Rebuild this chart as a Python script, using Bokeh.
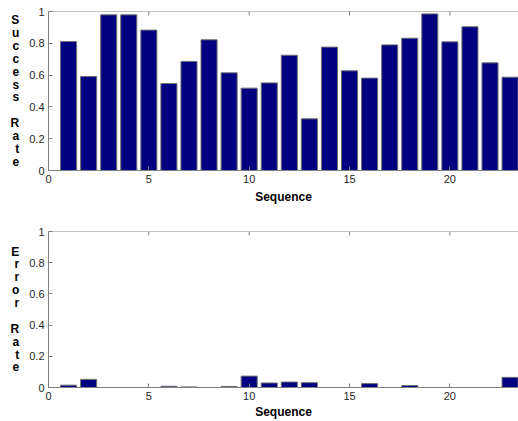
from bokeh.plotting import figure
from bokeh.layouts import column
from bokeh.models import FixedTicker, Range1d, Span
from bokeh.embed import file_html
from bokeh.resources import INLINE

sequence = list(range(1, 24))
success_rate = [0.811, 0.591, 0.979, 0.979, 0.883, 0.547, 0.686, 0.822, 0.614, 0.518,
                0.551, 0.725, 0.325, 0.776, 0.627, 0.581, 0.790, 0.832, 0.985, 0.809,
                0.904, 0.677, 0.587]
error_rate = [0.015, 0.052, 0.0, 0.0, 0.0, 0.008, 0.004, 0.0, 0.007, 0.073,
              0.029, 0.035, 0.031, 0.0, 0.0, 0.025, 0.0, 0.013, 0.0, 0.0,
              0.0, 0.0, 0.065]
x_ticks = [0, 5, 10, 15, 20]
y_ticks = [0, 0.2, 0.4, 0.6, 0.8, 1]
y_tick_labels = ["0", "0.2", "0.4", "0.6", "0.8", "1"]
x_label = "Sequence"
y_labels = ["Success Rate", "Error Rate"]

FONT = "Liberation Sans"
BAR = "#000080"
EDGE = "#707070"
AX = "#808080"
TXT = "#262626"


def make(values, ylabel, height, top, bottom, label_standoff):
    p = figure(width=518, height=height, output_backend="svg", toolbar_location=None,
               x_range=Range1d(0, 23.42), y_range=Range1d(0, 1),
               min_border_left=48, min_border_right=0,
               min_border_top=top, min_border_bottom=bottom)
    p.outline_line_color = None
    p.background_fill_color = "white"
    p.border_fill_color = "white"
    p.grid.visible = False
    p.vbar(x=sequence, top=values, width=0.8, fill_color=BAR, line_color=EDGE, line_width=1)

    xa = p.xaxis[0]
    xa.ticker = FixedTicker(ticks=x_ticks)
    xa.axis_label = x_label
    ya = p.yaxis[0]
    ya.ticker = FixedTicker(ticks=y_ticks)
    ya.major_label_overrides = {t: s for t, s in zip(y_ticks, y_tick_labels)}
    for a in (xa, ya):
        a.major_tick_in = 4
        a.major_tick_out = 0
        a.minor_tick_line_color = None
        a.axis_line_color = AX
        a.major_tick_line_color = AX
        a.major_label_text_font = FONT
        a.major_label_text_font_size = "11px"
        a.major_label_text_color = TXT
        a.axis_label_text_font = FONT
        a.axis_label_text_font_style = "bold"
        a.axis_label_text_font_size = "12px"
        a.axis_label_text_color = "black"
    xa.major_label_standoff = 4
    ya.major_label_standoff = 4
    xa.axis_label_standoff = label_standoff

    ya.axis_label = "\n".join(c if c != " " else " " for c in ylabel)
    ya.axis_label_orientation = "horizontal"
    ya.axis_label_standoff = 7
    ya.axis_label_text_line_height = 0.92

    # top box edge with inward ticks (MATLAB style)
    p.add_layout(Span(location=1, dimension="width", line_color=AX, line_width=1))
    tick_len = 4.0 / (height - top - bottom)
    p.segment(x0=x_ticks, x1=x_ticks, y0=[1] * len(x_ticks), y1=[1 - tick_len] * len(x_ticks),
              line_color=AX, line_width=1)
    return p


p1 = make(success_rate, y_labels[0], 210, 11, 40, 4)
p2 = make(error_rate, y_labels[1], 211, 21, 30, 2)
p = column(p1, p2, spacing=0)

open("out.html", "w").write(file_html(p, INLINE))
